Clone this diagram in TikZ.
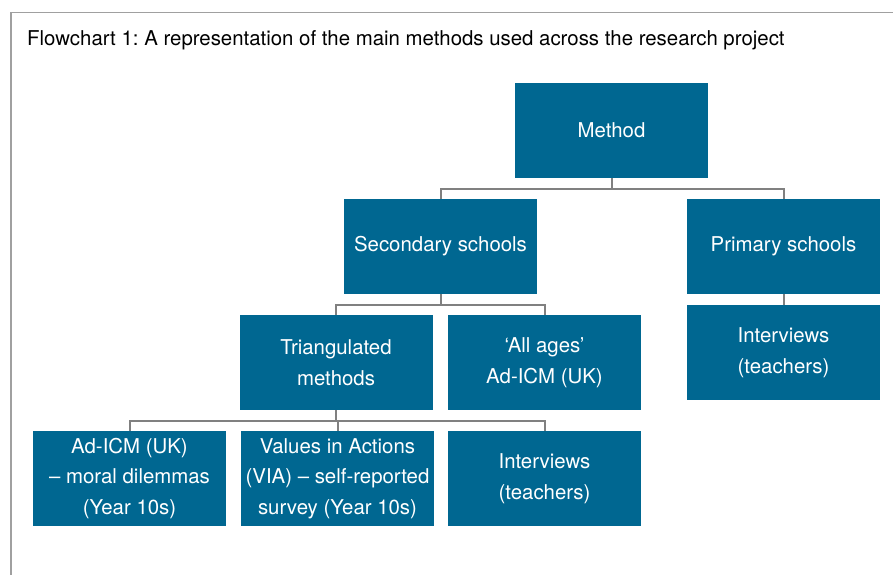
\documentclass[tikz,border=0pt]{standalone}
\usepackage{fontspec}
\setmainfont{TeX Gyre Heros}
\frenchspacing
\definecolor{boxblue}{RGB}{0,103,145}
\definecolor{connGray}{RGB}{128,128,128}
\definecolor{frameGray}{RGB}{160,160,160}
\begin{document}
\begin{tikzpicture}[x=1pt,y=-1pt,
  box/.style={rectangle,fill=boxblue,text=white,minimum width=193pt,minimum height=95pt,
    inner sep=0pt,align=center,font=\fontsize{20.4}{30.5}\selectfont},
  conn/.style={draw=connGray,line width=2pt}]
\useasboundingbox (0,0) rectangle (893,575);
\draw[frameGray,line width=1.3pt] (893,12.5) -- (11,12.5) -- (11,575);
\node[anchor=base west,inner sep=0pt,font=\fontsize{20.4}{24}\selectfont] (title) at (27,46)
  {Flowchart 1: A representation of the main methods used across the research project};
\node[box] (method) at (611.5,130.5) {Method};
\node[box] (sec) at (440.5,246.5) {Secondary schools};
\node[box] (prim) at (783.5,246.5) {Primary schools};
\node[box] (primint) at (783.5,352.5) {Interviews\\(teachers)};
\node[box] (tri) at (336,362.5) {Triangulated\\methods};
\node[box] (all) at (544.5,362.5) {‘All ages’\\Ad-ICM (UK)};
\node[box] (ad) at (129.5,478.5) {Ad-ICM (UK)\\– moral dilemmas\\(Year 10s)};
\node[box] (via) at (337.5,478.5) {Values in Actions\\(VIA) – self-reported\\survey (Year 10s)};
\node[box] (int) at (544.5,478.5) {Interviews\\(teachers)};
\draw[conn] (method.south) -- ++(0,10.5) -| (sec.north);
\draw[conn] (method.south) -- ++(0,10.5) -| (prim.north);
\draw[conn] (prim.south) -- (primint.north);
\draw[conn] (sec.south) -- ++(0,10.5) -| (tri.north);
\draw[conn] (sec.south) -- ++(0,10.5) -| (all.north);
\draw[conn] (tri.south) -- ++(0,11) -| (ad.north);
\draw[conn] (tri.south) -- ++(0,11) -| (via.north);
\draw[conn] (tri.south) -- ++(0,11) -| (int.north);
\end{tikzpicture}
\end{document}
